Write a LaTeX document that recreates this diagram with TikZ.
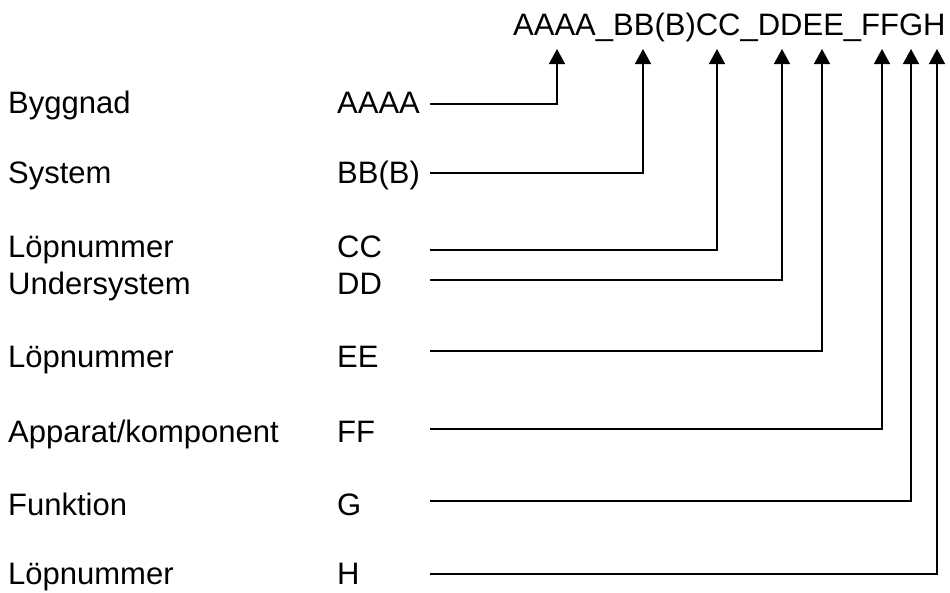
\documentclass[tikz,border=0pt]{standalone}
\usepackage{fontspec}
\setmainfont{Liberation Sans}
\usetikzlibrary{arrows.meta,positioning}
\tikzstyle{NameText} =[inner sep=0,anchor=base west,font=\fontsize{31}{37}\selectfont]
\tikzstyle{CodeText} =[NameText]
\tikzstyle{CodeLink} =[-{Triangle[length=15pt,width=16pt]},line width=1.5pt]

\begin{document}
\begin{tikzpicture}[x=1pt,y=-1pt]
    \useasboundingbox (0,0) rectangle (950,592);
    \node[NameText](Code-String) at (513,35){AAAA\_BB(B)CC\_DDEE\_FFGH};

    \node[NameText](Byggnad) at (8,113){Byggnad};
    \node[NameText](System) at (8,183){System};
    \node[NameText](Lopnummer-C) at (8,257){Löpnummer};
    \node[NameText](Undersystem) at (8,294){Undersystem};
    \node[NameText](Lopnummer-E) at (8,367){Löpnummer};
    \node[NameText](Apparat) at (8,442){Apparat/komponent};
    \node[NameText](Funktion) at (8,515){Funktion};
    \node[NameText](Lopnummer-H) at (8,584){Löpnummer};

    \node[CodeText](Code-A) at (337,113){AAAA};
    \node[CodeText](Code-B) at (337,183){BB(B)};
    \node[CodeText](Code-C) at (337,257){CC};
    \node[CodeText](Code-D) at (337,294){DD};
    \node[CodeText](Code-E) at (337,367){EE};
    \node[CodeText](Code-F) at (337,442){FF};
    \node[CodeText](Code-G) at (337,515){G};
    \node[CodeText](Code-H) at (337,584){H};

    % start of each line and tip under the code string
    \coordinate (Start-A) at (430,104);  \coordinate (Tip-A) at (557,49);
    \coordinate (Start-B) at (430,173);  \coordinate (Tip-B) at (643,49);
    \coordinate (Start-C) at (430,250);  \coordinate (Tip-C) at (717,49);
    \coordinate (Start-D) at (430,280);  \coordinate (Tip-D) at (782,49);
    \coordinate (Start-E) at (430,351);  \coordinate (Tip-E) at (822,49);
    \coordinate (Start-F) at (430,429);  \coordinate (Tip-F) at (882,49);
    \coordinate (Start-G) at (430,501);  \coordinate (Tip-G) at (911,49);
    \coordinate (Start-H) at (430,574);  \coordinate (Tip-H) at (937,49);

    \draw[CodeLink] (Start-A) -| (Tip-A);
    \draw[CodeLink] (Start-B) -| (Tip-B);
    \draw[CodeLink] (Start-C) -| (Tip-C);
    \draw[CodeLink] (Start-D) -| (Tip-D);
    \draw[CodeLink] (Start-E) -| (Tip-E);
    \draw[CodeLink] (Start-F) -| (Tip-F);
    \draw[CodeLink] (Start-G) -| (Tip-G);
    \draw[CodeLink] (Start-H) -| (Tip-H);
\end{tikzpicture}
\end{document}
